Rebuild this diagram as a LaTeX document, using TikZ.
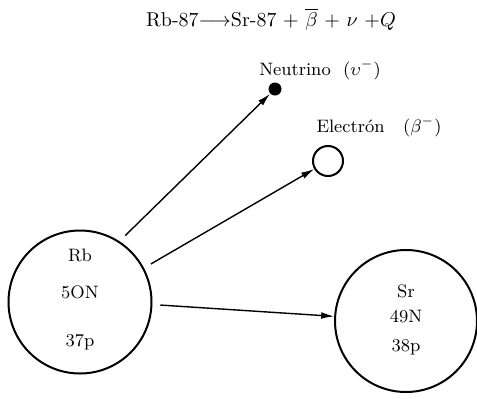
\documentclass[tikz,border=0pt]{standalone}
\usepackage{amsmath,amssymb}
\usepackage{tikz}
\usetikzlibrary{arrows.meta}
\tikzset{
  nucleus/.style={draw=black, line width=1pt, circle, inner sep=0pt, minimum size=71.5pt},
  particle/.style={draw=black, line width=1pt, circle, inner sep=0pt, minimum size=15pt},
  dotpart/.style={fill=black, circle, inner sep=0pt, minimum size=6.5pt},
  lbl/.style={font=\small, inner sep=0pt},
  flow/.style={-{Latex[length=6.5pt,width=3.4pt]}, line width=0.7pt, draw=black}
}
\begin{document}
\begin{tikzpicture}[x=0.5pt, y=-0.5pt]
  \useasboundingbox (0,0) rectangle (477,398);
  \node[font=\normalsize, inner sep=0pt] (eq) at (271,19)
    {Rb-87$\longrightarrow$Sr-87 + $\overline{\beta}$ + $\nu$ +$Q$};

  \node[nucleus] (rb) at (80,302) {};
  \node[nucleus, minimum size=71pt] (sr) at (406,321) {};
  \node[dotpart] (nu) at (275,89) {};
  \node[particle] (el) at (328,161) {};

  \node[lbl] (nulbl) at (320,70) {Neutrino\ \ ($\upsilon^{-}$)};
  \node[lbl] (ellbl) at (379,127) {Electr\'on\ \ \ ($\beta^{-}$)};

  \node[lbl] (rbname) at (80,255) {Rb};
  \node[lbl] (rbn) at (80,292) {5ON};
  \node[lbl] (rbp) at (80,342) {37p};
  \node[lbl] (srname) at (406,291) {Sr};
  \node[lbl] (srn) at (406,317) {49N};
  \node[lbl] (srp) at (406,347) {38p};

  \draw[flow, shorten <=4pt] (rb.57) -- (nu);
  \draw[flow, shorten <=4pt] (rb.28) -- (el);
  \draw[flow, shorten <=4pt] (rb.-2) -- (sr);
\end{tikzpicture}
\end{document}
